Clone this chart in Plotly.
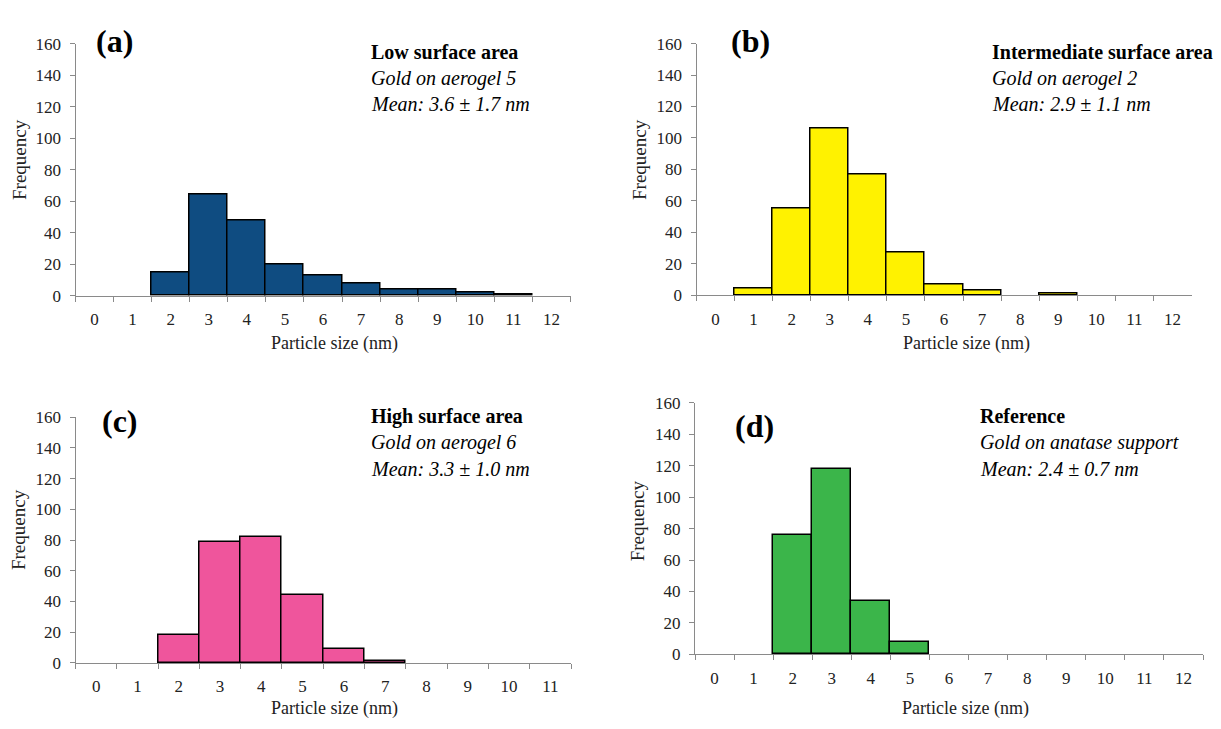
import plotly.graph_objects as go

W, H = 1221, 729

# ---- data ----
sizes_a = ["0", "1", "2", "3", "4", "5", "6", "7", "8", "9", "10", "11", "12"]
freq_a = [0, 0, 15, 64, 48, 20, 13, 8, 4, 4, 2, 1, 0]

sizes_b = ["0", "1", "2", "3", "4", "5", "6", "7", "8", "9", "10", "11", "12"]
freq_b = [0, 4, 55, 106, 77, 27, 7, 3, 0, 1, 0, 0, 0]

sizes_c = ["0", "1", "2", "3", "4", "5", "6", "7", "8", "9", "10", "11"]
freq_c = [0, 0, 18, 79, 82, 44, 9, 1, 0, 0, 0, 0]

sizes_d = ["0", "1", "2", "3", "4", "5", "6", "7", "8", "9", "10", "11", "12"]
freq_d = [0, 0, 76, 118, 34, 8, 0, 0, 0, 0, 0, 0, 0]

panel_tags = ["(a)", "(b)", "(c)", "(d)"]
panel_titles = ["Low surface area", "Intermediate surface area", "High surface area", "Reference"]
panel_samples = ["Gold on aerogel 5", "Gold on aerogel 2", "Gold on aerogel 6", "Gold on anatase support"]
panel_means = ["Mean: 3.6 ± 1.7 nm", "Mean: 2.9 ± 1.1 nm", "Mean: 3.3 ± 1.0 nm", "Mean: 2.4 ± 0.7 nm"]
colors = ["#0f4c81", "#fff200", "#ef559c", "#3bb54a"]

FONT = "Liberation Serif, DejaVu Serif, serif"

# pixel boxes of plot areas: (x0, x1, ytop, ybottom)
boxes = [
    (75.5, 570.5, 35.5, 294.5),
    (696.5, 1191.5, 35.5, 294.0),
    (75.5, 571.0, 419.0, 671.5),
    (695.0, 1203.0, 404.5, 662.5),
]

def fx(px):
    return px / W

def fy(py):
    return 1 - py / H

fig = go.Figure()
datasets = [(sizes_a, freq_a), (sizes_b, freq_b), (sizes_c, freq_c), (sizes_d, freq_d)]

for i, ((cats, vals), box, col) in enumerate(zip(datasets, boxes, colors)):
    n = i + 1
    xa = "x" if n == 1 else f"x{n}"
    ya = "y" if n == 1 else f"y{n}"
    fig.add_trace(go.Bar(
        x=cats, y=vals, xaxis=xa, yaxis=ya,
        marker=dict(color=col,
                    line=dict(color="black", width=[1.5 if v > 0 else 0 for v in vals])),
        showlegend=False, hoverinfo="x+y",
    ))
    x0, x1, yt, yb = box
    axis_common = dict(showline=True, linecolor="#8a8a8a", linewidth=1,
                       ticks="outside", ticklen=5, tickcolor="#8a8a8a", tickwidth=1,
                       showgrid=False, zeroline=False,
                       tickfont=dict(family=FONT, size=17, color="#222222"))
    fig.layout[f"xaxis{'' if n == 1 else n}"] = dict(
        axis_common, domain=[fx(x0), fx(x1)], anchor=ya,
        type="category", categoryorder="array", categoryarray=cats,
        tickson="boundaries", range=[-0.5, len(cats) - 0.5],
        ticklabelstandoff=8)
    fig.layout[f"yaxis{'' if n == 1 else n}"] = dict(
        axis_common, domain=[fy(yb), fy(yt)], anchor=xa,
        range=[0, 160], dtick=20, tickmode="linear", tick0=0,
        ticklabelstandoff=5)

ann = []
# panel tags
tag_pos = [(114, 33), (750, 33), (120, 423), (755, 428)]
for t, (px, py) in zip(panel_tags, tag_pos):
    ann.append(dict(text=f"<b>{t}</b>", x=fx(px), y=fy(py), xref="paper", yref="paper",
                    xanchor="center", yanchor="middle", showarrow=False,
                    font=dict(family=FONT, size=32, color="black")))
# text blocks
text_pos = [(369, 44), (990, 44), (369, 418), (978, 418)]
for title, samp, mean, (px, py) in zip(panel_titles, panel_samples, panel_means, text_pos):
    ann.append(dict(text=f"<b>{title}</b>", x=fx(px), y=fy(py), xref="paper", yref="paper",
                    xanchor="left", yanchor="middle", showarrow=False,
                    font=dict(family=FONT, size=20, color="black")))
    ann.append(dict(text=f"<i>{samp}</i>", x=fx(px), y=fy(py + 27), xref="paper", yref="paper",
                    xanchor="left", yanchor="middle", showarrow=False,
                    font=dict(family=FONT, size=20, color="black")))
    ann.append(dict(text=f"<i>{mean}</i>", x=fx(px), y=fy(py + 54), xref="paper", yref="paper",
                    xanchor="left", yanchor="middle", showarrow=False,
                    font=dict(family=FONT, size=20, color="black")))
# axis titles
xt_pos = [(334, 343), (967, 343), (334, 718), (965, 718)]
for px, py in xt_pos:
    ann.append(dict(text="Particle size (nm)", x=fx(px), y=fy(py), xref="paper", yref="paper",
                    xanchor="center", yanchor="middle", showarrow=False,
                    font=dict(family=FONT, size=18, color="#222222")))
yt_pos = [(20, 155), (640, 155), (18, 535), (637, 526)]
for px, py in yt_pos:
    ann.append(dict(text="Frequency", x=fx(px), y=fy(py), xref="paper", yref="paper",
                    xanchor="center", yanchor="middle", showarrow=False, textangle=-90,
                    font=dict(family=FONT, size=19, color="#222222")))

fig.update_layout(width=W, height=H, autosize=False,
                  margin=dict(l=0, r=0, t=0, b=0),
                  paper_bgcolor="white", plot_bgcolor="white",
                  bargap=0, annotations=ann)

fig.write_html("out.html")
